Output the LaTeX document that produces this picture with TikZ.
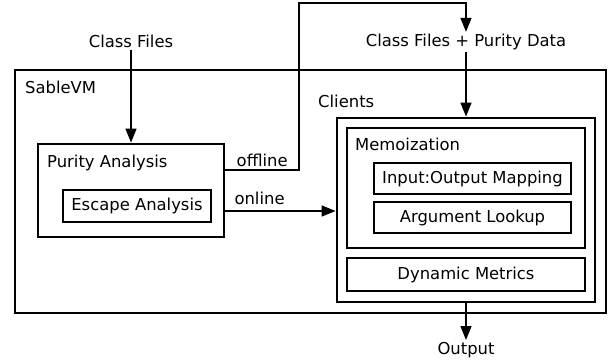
\documentclass[tikz,border=0pt]{standalone}
\usepackage{fontspec}
\setmainfont{DejaVu Sans}
\usetikzlibrary{arrows.meta,positioning,calc}
\newcommand{\diagfont}{\fontsize{16.4}{19}\selectfont}
\tikzset{
  outerbox/.style={rectangle,draw=black,line width=2.8pt,inner sep=0pt},
  innerbox/.style={rectangle,draw=black,line width=1.6pt,inner sep=0pt},
  leafbox/.style={rectangle,draw=black,line width=1.4pt,inner sep=0pt,
    font=\diagfont,align=center},
  boxtitle/.style={anchor=base west,inner sep=0pt,font=\diagfont},
  iolabel/.style={font=\diagfont,inner sep=2pt},
  myarrow/.style={-{Triangle[length=14pt,width=11pt]},line width=1.4pt},
}

\begin{document}
\begin{tikzpicture}[x=1pt,y=-1pt]
  \useasboundingbox (0,0) rectangle (608,360);
  % SableVM and the purity analysis
  \node[outerbox,minimum width=591pt,minimum height=243pt] (sablevm) at (310.5,191.5) {};
  \node[boxtitle] (sablevmtitle) at (25,93) {SableVM};
  \node[outerbox,minimum width=186pt,minimum height=93pt] (purity) at (131,190.5) {};
  \node[boxtitle] (puritytitle) at (47,167) {Purity Analysis};
  \node[leafbox,minimum width=148pt,minimum height=32pt] (escape) at (137,206) {Escape Analysis};
  % clients
  \node[outerbox,minimum width=258pt,minimum height=184pt] (clients) at (466,210) {};
  \node[boxtitle] (clientstitle) at (318,107) {Clients};
  \node[innerbox,minimum width=238pt,minimum height=120pt] (memo) at (466,188) {};
  \node[boxtitle] (memotitle) at (355,150) {Memoization};
  \node[leafbox,minimum width=197pt,minimum height=31pt] (iomap) at (472.5,178.5) {Input:Output Mapping};
  \node[leafbox,minimum width=197pt,minimum height=31pt] (arglookup) at (472.5,217.5) {Argument Lookup};
  \node[leafbox,minimum width=238pt,minimum height=33pt] (dynmetrics) at (466,274.5) {Dynamic Metrics};
  % inputs and outputs
  \node[iolabel] (classfiles) at (131,41) {Class Files};
  \node[iolabel] (puritydata) at (466,42) {Class Files + Purity Data};
  \node[iolabel] (output) at (466,350) {Output};
  \coordinate (offbend) at (299,3);
  \draw[myarrow] (classfiles) -- (purity);
  \draw[myarrow] ([yshift=20.5pt]purity.east) -| node[pos=0.25,above=1pt,iolabel] (offlinelbl) {offline}
    (offbend) -| (puritydata);
  \draw[myarrow] (puritydata) -- (clients);
  \draw[myarrow] ([yshift=-20.5pt]purity.east) -- node[pos=0.31,above=4pt,iolabel] (onlinelbl) {online}
    ([yshift=-1pt]clients.west);
  \draw[myarrow] (clients) -- (output);
\end{tikzpicture}
\end{document}
